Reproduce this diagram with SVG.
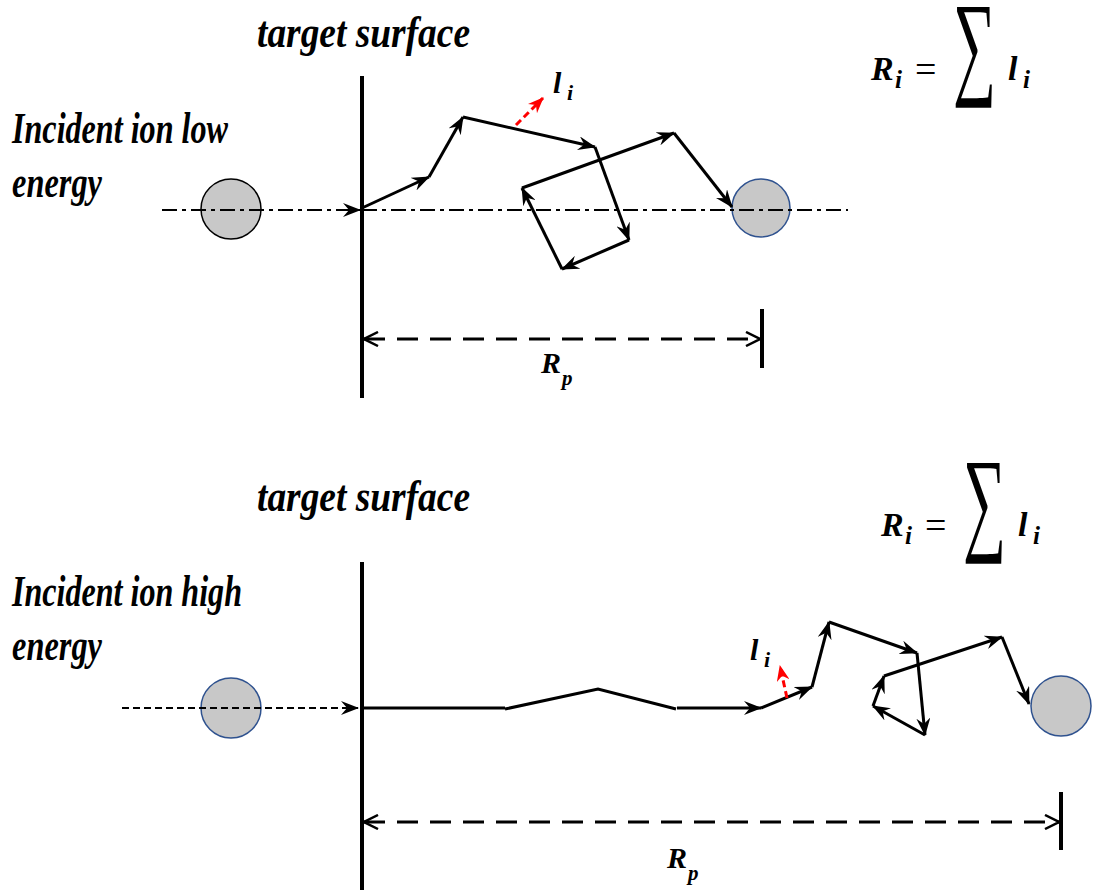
<svg xmlns="http://www.w3.org/2000/svg" width="1094" height="893" viewBox="0 0 1094 893">
<style>
.lbl{font-family:"Liberation Serif",serif;font-weight:bold;font-style:italic;fill:#000}
.math{font-family:"Liberation Serif","DejaVu Serif",serif;font-weight:bold;font-style:italic;fill:#000}
.up{font-family:"Liberation Serif","DejaVu Serif",serif;fill:#000}
.seg{stroke:#000;stroke-width:3;fill:none;marker-end:url(#ah)}
.plain{stroke:#000;stroke-width:3;fill:none}
.surf{stroke:#000;stroke-width:4}
.red{stroke:#ff0000;stroke-width:3;stroke-dasharray:7 4;fill:none;marker-end:url(#ahr)}
.dim{stroke:#000;stroke-width:3;stroke-dasharray:21 12;fill:none;marker-start:url(#ch);marker-end:url(#ch)}
.ion{fill:#c8c8c8;stroke:#2f528f;stroke-width:1.5}
</style>
<defs>
<marker id="ah" viewBox="0 0 18 14" refX="17" refY="7" markerWidth="18" markerHeight="14" markerUnits="userSpaceOnUse" orient="auto"><path d="M0,0 L18,7 L0,14 L6,7 Z" fill="#000"/></marker>
<marker id="ahr" viewBox="0 0 16 13" refX="15" refY="6.5" markerWidth="16" markerHeight="13" markerUnits="userSpaceOnUse" orient="auto"><path d="M0,0 L16,6.5 L0,13 L5,6.5 Z" fill="#ff0000"/></marker>
<marker id="ch" viewBox="0 0 16 16" refX="15" refY="8" markerWidth="16" markerHeight="16" markerUnits="userSpaceOnUse" orient="auto-start-reverse"><path d="M1,1 L15,8 L1,15" fill="none" stroke="#000" stroke-width="2.5"/></marker>
</defs>
<rect width="1094" height="893" fill="#fff"/>

<!-- top panel -->
<g id="top-labels">
<text class="lbl" x="257" y="47" font-size="44" textLength="213" lengthAdjust="spacingAndGlyphs">target surface</text>
<text class="lbl" x="12" y="143" font-size="44" textLength="216" lengthAdjust="spacingAndGlyphs">Incident ion low</text>
<text class="lbl" x="12" y="197" font-size="44" textLength="90" lengthAdjust="spacingAndGlyphs">energy</text>
</g>
<g id="top-surface"><line class="surf" x1="362" y1="76" x2="362" y2="398"/></g>
<g id="top-ion-in"><circle cx="231" cy="209" r="30" fill="#c8c8c8" stroke="#000" stroke-width="1.5"/></g>
<g id="top-ion-stop"><circle class="ion" cx="761" cy="208" r="29"/></g>
<g id="top-formula">
<text class="math" x="871" y="80" font-size="34">R</text>
<text class="math" x="895" y="88" font-size="25">i</text>
<text class="up" x="915" y="82" font-size="38">=</text>
<text class="up" transform="translate(953,83) scale(1,1.45)" x="0" y="0" font-size="80" textLength="43" lengthAdjust="spacingAndGlyphs">∑</text>
<text class="math" x="1008" y="80" font-size="34">l</text>
<text class="math" x="1023" y="88" font-size="25">i</text>
</g>
<g id="top-li">
<text class="math" x="553" y="93" font-size="30">l</text>
<text class="math" x="567" y="100" font-size="22">i</text>
</g>
<g id="top-rp">
<text class="lbl" x="541" y="373" font-size="30">R</text>
<text class="lbl" x="562" y="385" font-size="21">p</text>
</g>

<!-- bottom panel -->
<g id="bottom-labels">
<text class="lbl" x="257" y="511" font-size="44" textLength="213" lengthAdjust="spacingAndGlyphs">target surface</text>
<text class="lbl" x="12" y="606" font-size="44" textLength="230" lengthAdjust="spacingAndGlyphs">Incident ion high</text>
<text class="lbl" x="12" y="660" font-size="44" textLength="90" lengthAdjust="spacingAndGlyphs">energy</text>
</g>
<g id="bottom-surface"><line class="surf" x1="362" y1="562" x2="362" y2="890"/></g>
<g id="bottom-ion-in"><circle class="ion" cx="231" cy="708" r="30"/></g>
<g id="bottom-ion-stop"><circle class="ion" cx="1061" cy="706" r="30"/></g>
<g id="bottom-formula">
<text class="math" x="881" y="536" font-size="34">R</text>
<text class="math" x="905" y="544" font-size="25">i</text>
<text class="up" x="925" y="538" font-size="38">=</text>
<text class="up" transform="translate(963,539) scale(1,1.45)" x="0" y="0" font-size="80" textLength="43" lengthAdjust="spacingAndGlyphs">∑</text>
<text class="math" x="1018" y="536" font-size="34">l</text>
<text class="math" x="1033" y="544" font-size="25">i</text>
</g>
<g id="bottom-li">
<text class="math" x="750" y="660" font-size="30">l</text>
<text class="math" x="764" y="667" font-size="22">i</text>
</g>
<g id="bottom-rp">
<text class="lbl" x="667" y="868" font-size="30">R</text>
<text class="lbl" x="688" y="880" font-size="21">p</text>
</g>

<g id="connectors">
<!-- top -->
<line x1="162" y1="210" x2="360" y2="210" stroke="#000" stroke-width="2.2" stroke-dasharray="15 5 4 5" marker-end="url(#ah)"/>
<line x1="362" y1="210" x2="848" y2="210" stroke="#000" stroke-width="2.2" stroke-dasharray="15 5 4 5"/>
<line class="seg" x1="362" y1="208" x2="429" y2="177"/>
<line class="seg" x1="429" y1="177" x2="463" y2="117"/>
<line class="seg" x1="463" y1="117" x2="595" y2="147"/>
<line class="seg" x1="595" y1="147" x2="629" y2="240"/>
<line class="seg" x1="629" y1="240" x2="562" y2="269"/>
<line class="seg" x1="562" y1="269" x2="522" y2="188"/>
<line class="seg" x1="522" y1="188" x2="674" y2="133"/>
<line class="seg" x1="674" y1="133" x2="732" y2="207"/>
<line class="red" x1="516" y1="125" x2="543" y2="98"/>
<line class="dim" x1="364" y1="339" x2="760" y2="339"/>
<line class="surf" x1="762" y1="309" x2="762" y2="368"/>
<!-- bottom -->
<line x1="122" y1="708" x2="358" y2="708" stroke="#000" stroke-width="2" stroke-dasharray="7 4" marker-end="url(#ah)"/>
<polyline class="plain" points="362,708 505,708"/>
<polyline class="plain" points="505,709 598,689 676,709"/>
<line class="seg" x1="677" y1="708" x2="761" y2="708"/>
<line class="seg" x1="761" y1="708" x2="812" y2="687"/>
<line class="seg" x1="812" y1="687" x2="829" y2="622"/>
<line class="seg" x1="829" y1="622" x2="917" y2="653"/>
<line class="seg" x1="917" y1="653" x2="925" y2="735"/>
<line class="seg" x1="925" y1="735" x2="873" y2="706"/>
<line class="seg" x1="873" y1="706" x2="884" y2="676"/>
<line class="seg" x1="884" y1="676" x2="1002" y2="637"/>
<line class="seg" x1="1002" y1="637" x2="1029" y2="704"/>
<line class="red" x1="787" y1="698" x2="780" y2="666"/>
<line class="dim" x1="364" y1="822" x2="1059" y2="822"/>
<line class="surf" x1="1061" y1="792" x2="1061" y2="850"/>
</g>
</svg>
